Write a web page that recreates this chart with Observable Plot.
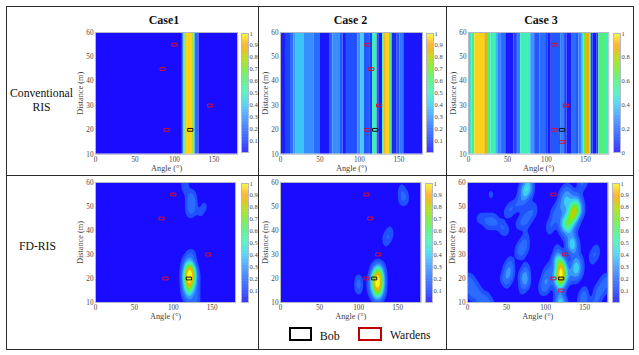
<!DOCTYPE html>
<html><head><meta charset="utf-8">
<script src="https://cdn.jsdelivr.net/npm/d3@7"></script>
<script src="https://cdn.jsdelivr.net/npm/@observablehq/plot@0.6"></script>
<style>
html,body{margin:0;background:#fff}
#page{position:relative;width:639px;height:355px;overflow:hidden;background:#fff;font-family:"Liberation Serif",serif;color:#111}
#page svg{position:absolute;overflow:visible}
.line{position:absolute;background:#2a2a2a}
.txt{position:absolute;white-space:nowrap;line-height:1;transform:translate(-50%,-50%)}
.box{position:absolute;box-sizing:border-box;border-style:solid;border-width:2px}
</style></head><body><div id="page"></div>
<script>
// colour ramp (value -> colour)
const rampStops  = [0, .1, .2, .3, .4, .5, .6, .7, .8, .85, .9, .95, 1];
const rampColors = ["#1a0cff","#1c44ff","#2a6cff","#3a98ff","#3ccff5","#3ef0b8","#4cf07a","#74e82a","#b8d400","#e4b400","#fba81a","#fdd21a","#eeff1e"];

// Conventional RIS: band edges (degrees) and band values
const case1Edges = [0,110,112,113.5,115,123,124.5,126,131,180];
const case1Vals  = [0,.25,.5,.75,.95,.75,.5,.2,0];
const case2Edges = [0,6.3,12.7,16.9,19.9,29.6,42.2,50.7,62.1,66.3,75.2,79.4,83.6,98,102.2,106.5,113.2,116.6,122.5,124.6,129.5,131,133,138,139.4,141.5,147.9,151.2,156.3,180];
const case2Vals  = [.03,.1,.2,.3,.38,.28,.2,.02,.18,.28,.15,.03,.13,.28,.4,.15,.08,.5,.15,.03,.6,.9,.95,.9,.6,.05,.15,.22,.02];
const case3Edges = [0,2.1,4.3,8.1,20.9,24.3,28.6,35,38.4,41.4,47.8,58.4,62.7,67,79.8,84.9,91.7,99,102.4,106.2,118.2,123.3,126.7,133.1,137.4,141.6,145.9,148,151.4,155.7,157.4,160,165.1,167.2,175.8,180];
const case3Vals  = [.25,.45,.6,.95,.85,.6,.5,.35,.25,.2,.02,.1,.25,.5,.3,.15,.2,.1,.03,.15,.25,.1,.03,.2,.15,.25,.4,.7,.85,.5,.1,.02,.1,.6,.5];

// FD-RIS: value in tenths on a 5 degree x 2.5 m grid. Rows run 60 m -> 10 m,
// groups start at 0,25,50,75,100,125,150,175 degrees.
const Z = "00000";
const fd1Rows = [
 [Z,Z,Z,Z,"00010",Z,Z,"00"],
 [Z,Z,Z,Z,"00010",Z,Z,"00"],
 [Z,Z,Z,Z,"00001","10000",Z,"00"],
 [Z,Z,Z,Z,"00001","20000",Z,"00"],
 [Z,Z,Z,Z,"00001","20010",Z,"00"],
 [Z,Z,Z,Z,"00001","10100",Z,"00"],
 [Z,Z,Z,Z,Z,Z,Z,"00"],
 [Z,Z,Z,Z,Z,Z,Z,"00"],
 [Z,Z,Z,Z,Z,Z,Z,"00"],
 [Z,Z,Z,Z,Z,Z,Z,"00"],
 [Z,Z,Z,Z,Z,Z,Z,"00"],
 [Z,Z,Z,Z,Z,Z,Z,"00"],
 [Z,Z,Z,Z,"00001","10000",Z,"00"],
 [Z,Z,Z,Z,"00012","10000",Z,"00"],
 [Z,Z,Z,Z,"00026","40000",Z,"00"],
 [Z,Z,Z,Z,"00049","71000",Z,"00"],
 [Z,Z,Z,Z,"00049","61000",Z,"00"],
 [Z,Z,Z,Z,"00038","41000",Z,"00"],
 [Z,Z,Z,Z,"00025","21000",Z,"00"],
 [Z,Z,Z,Z,"00012","11000",Z,"00"],
 [Z,Z,Z,Z,"00001","11000",Z,"00"]
];
const fd2Rows = [
 [Z,Z,Z,Z,Z,Z,Z,"00"],
 [Z,Z,Z,Z,Z,Z,"01000","00"],
 [Z,Z,Z,Z,Z,Z,"01100","00"],
 [Z,Z,Z,Z,Z,Z,"01100","00"],
 [Z,Z,Z,Z,Z,Z,Z,"00"],
 [Z,Z,Z,Z,Z,Z,Z,"00"],
 [Z,Z,Z,Z,Z,Z,Z,"00"],
 [Z,Z,Z,Z,Z,Z,Z,"00"],
 [Z,Z,Z,Z,Z,"00010",Z,"00"],
 [Z,Z,Z,Z,Z,"00110",Z,"00"],
 [Z,Z,Z,Z,Z,"00100",Z,"00"],
 [Z,Z,Z,Z,Z,Z,Z,"00"],
 [Z,Z,Z,Z,Z,Z,Z,"00"],
 [Z,Z,Z,Z,Z,Z,Z,"00"],
 [Z,Z,Z,Z,"00001","31000",Z,"00"],
 [Z,Z,Z,Z,"00004","73000",Z,"00"],
 [Z,Z,Z,Z,"10016","94000",Z,"00"],
 [Z,Z,Z,Z,"20016","94000",Z,"00"],
 [Z,Z,Z,Z,"10014","73000",Z,"00"],
 [Z,Z,Z,Z,"00002","41000",Z,"00"],
 [Z,Z,Z,Z,Z,Z,Z,"00"]
];
const fd3Rows = [
 [Z,Z,Z,"22000",Z,"00001","10000","00"],
 [Z,Z,"00002","43000",Z,"11001",Z,"00"],
 [Z,"01000","00002","31000","00001","22110",Z,"00"],
 [Z,Z,"00012","10000","00001","32231",Z,"00"],
 [Z,Z,"01110","00100","00012","22552",Z,"00"],
 [Z,Z,"11000","11100","00111","13762",Z,"00"],
 ["00011","11100","00001","11000","00111","35620",Z,"00"],
 [Z,"11111","00011","10000","01102","55210",Z,"00"],
 [Z,"00001","10000",Z,"01001","23100",Z,"00"],
 [Z,Z,Z,"10000",Z,"11200",Z,"00"],
 [Z,Z,"00001","10000",Z,"02410",Z,"00"],
 [Z,Z,"00012","10000","00010","02310","00010","00"],
 [Z,Z,"00011",Z,"00021","00110","00110","00"],
 [Z,Z,"01000",Z,"00154","10121","00100","00"],
 [Z,Z,"12000","10000","01048","30241",Z,"00"],
 [Z,Z,"22001","20000","11159","41231",Z,"00"],
 ["11000","00001","21002","30000","21159","31110",Z,"11"],
 ["11100",Z,"10001","20001","21035","10000","00001","11"],
 ["11110",Z,"00001","00001","10011",Z,"10011","10"],
 ["01111","10000",Z,Z,"00012","00001","20011","00"],
 ["00011","11000",Z,Z,"00024","10001","10110","00"]
];
// contour levels and the colour-bar value each one is painted with
const contourLevels = [-1,.035,.1,.2,.3,.4,.5,.6,.7,.8,.85,.9,.96];
const contourRamp   = [ 0,.13,.2,.3,.4,.5,.6,.7,.8,.85,.9,.95,1];
const contourGain = 1.5, contourCell = 4, contourBlur = 2;

// users: [angle, distance]
const bob = [[120,20]];
const wardens1 = [[100,55],[85,45],[145,30],[90,20]];
const wardens2 = [[110,55],[115,45],[125,30],[110,20]];
const wardens3 = [[110,55],[125,30],[110,20],[120,15]];

const xTicks = [0,50,100,150];
const yTicks = [10,20,30,40,50,60];
const barTicks = [.1,.2,.3,.4,.5,.6,.7,.8,.9,1];
const barTicks3 = [0,.2,.4,.6,.8,1];
const rampLevels = d3.range(0,1,.005);

// layout of the six panels (frame in page pixels)
const panels = [
 {edges:case1Edges,vals:case1Vals,war:wardens1,l:94.5,r:236.7,t:32,b:153.7,bl:240.7,bt:33,bb:152,ticks:barTicks},
 {edges:case2Edges,vals:case2Vals,war:wardens2,l:280,r:422,t:32,b:153.7,bl:426.3,bt:33,bb:152,ticks:barTicks},
 {edges:case3Edges,vals:case3Vals,war:wardens3,l:467.7,r:608,t:32,b:153.7,bl:613.3,bt:33,bb:152,ticks:barTicks3},
 {rows:fd1Rows,war:wardens1,l:95.3,r:235.3,t:182,b:302,bl:240.7,bt:183,bb:302,ticks:barTicks},
 {rows:fd2Rows,war:wardens2,l:279.7,r:420.3,t:182,b:302,bl:424.7,bt:183,bb:302,ticks:barTicks},
 {rows:fd3Rows,war:wardens3,l:466.7,r:607.3,t:182,b:302,bl:611.7,bt:183,bb:302,ticks:barTicks}
];
const page = document.getElementById("page");
const M = {left:24,right:3,top:3,bottom:22};
const font = {fontFamily:"Liberation Serif",fontSize:"7.2px",background:"transparent"};
const rectSymbol = {draw(c){ c.moveTo(-2.6,-1.4); c.lineTo(2.6,-1.4); c.lineTo(2.6,1.4); c.lineTo(-2.6,1.4); c.closePath(); }};
const rampColor = d3.scaleLinear(rampStops,rampColors);

function heatMarks(p){
  if (p.rows){
    // each reading fills a block of sub-cells; Plot's blur then rounds the contours
    const rows = p.rows.slice().reverse().map(r => r.join(""));
    const n = contourCell, w = 37, h = 21, grid = [];
    for (let j=0;j<h*n;j++) for (let i=0;i<w*n;i++)
      grid.push(+rows[Math.floor(j/n)][Math.floor(i/n)]/10*contourGain);
    return {marks:[Plot.contour(grid,{width:w*n,height:h*n,x1:-2.5,x2:182.5,y1:8.75,y2:61.25,fill:Plot.identity,thresholds:contourLevels,blur:contourBlur,clip:true})],
            domain:contourLevels,range:contourRamp.map(v=>rampColor(v))};
  }
  const bands = p.vals.map((v,i)=>({a:p.edges[i],b:p.edges[i+1],v}));
  return {marks:[Plot.rect(bands,{x1:"a",x2:"b",y1:10,y2:60,fill:"v"})],domain:rampStops,range:rampColors};
}
for (const p of panels){
  const h = heatMarks(p);
  const svg = Plot.plot({
    width:p.r-p.l+M.left+M.right,height:p.b-p.t+M.top+M.bottom,
    marginLeft:M.left,marginRight:M.right,marginTop:M.top,marginBottom:M.bottom,style:font,
    x:{domain:[0,180]},y:{domain:[10,60]},
    color:{type:"linear",domain:h.domain,range:h.range,clamp:true},
    marks:[
      ...h.marks,
      Plot.frame({stroke:"#b4b8c4",strokeWidth:1}),
      Plot.axisX({ticks:xTicks,tickSize:0,tickPadding:2.5,color:"#444",label:"Angle (°)",labelAnchor:"center",labelArrow:"none",labelOffset:16.5}),
      Plot.axisY({ticks:yTicks,tickSize:0,tickPadding:2,color:"#444",label:"Distance (m)",labelAnchor:"center",labelArrow:"none",labelOffset:18}),
      Plot.dot(p.war,{x:d=>d[0],y:d=>d[1],symbol:rectSymbol,r:3,stroke:"#d81030",strokeWidth:1,fill:"none"}),
      Plot.dot(bob,{x:d=>d[0],y:d=>d[1],symbol:rectSymbol,r:3,stroke:"#111",strokeWidth:1,fill:"none"})
    ]
  });
  svg.style.left = (p.l-M.left)+"px"; svg.style.top = (p.t-M.top)+"px";
  svg.querySelectorAll('g[aria-label="x-axis label"],g[aria-label="y-axis label"]').forEach(g=>{g.style.fontSize="8.3px";});
  page.appendChild(svg);

  const bar = Plot.plot({
    width:7+1+16,height:p.bb-p.bt+2,
    marginLeft:1,marginRight:16,marginTop:1,marginBottom:1,
    style:{...font,fontSize:"6.5px"},
    x:{domain:[0,1],axis:null},y:{domain:[0,1]},
    color:{type:"linear",domain:rampStops,range:rampColors},
    marks:[
      Plot.rect(rampLevels,{x1:0,x2:1,y1:d=>d,y2:d=>d+.006,fill:d=>d}),
      Plot.frame({stroke:"#b4b8c4",strokeWidth:1}),
      Plot.axisY({anchor:"right",ticks:p.ticks,tickFormat:d=>String(d),tickSize:0,tickPadding:1,color:"#444",label:null})
    ]
  });
  bar.style.left = (p.bl-1)+"px"; bar.style.top = (p.bt-1)+"px";
  page.appendChild(bar);
}

// table rules
const rules = [[6,6,627.5,1.4],[6,175,627.5,1.4],[6,349,627.5,1.4],[6,6,1.4,344.4],[258,6,1.4,344.4],[445.5,6,1.4,344.4],[633,6,1.4,344.4]];
for (const [x,y,w,h] of rules){
  const d = document.createElement("div"); d.className="line";
  d.style.cssText = `left:${x}px;top:${y}px;width:${w}px;height:${h}px`; page.appendChild(d);
}
// headings, row labels, legend
const texts = [["Case1",164,20,12,700],["Case 2",350.5,20,12,700],["Case 3",541,20,12,700],
 ["Conventional",41.5,94,11.7,400],["RIS",41.5,108,11.7,400],["FD-RIS",37.5,246.5,11.7,400],
 ["Bob",329.7,335.7,12,400],["Wardens",410.3,335.7,11.7,400]];
for (const [s,x,y,size,w] of texts){
  const d = document.createElement("div"); d.className="txt"; d.textContent=s;
  d.style.cssText = `left:${x}px;top:${y}px;font-size:${size}px;font-weight:${w}`; page.appendChild(d);
}
for (const [x,c] of [[288.7,"#000"],[358.3,"#c00000"]]){
  const d = document.createElement("div"); d.className="box";
  d.style.cssText = `left:${x}px;top:326.7px;width:23.6px;height:14px;border-color:${c}`; page.appendChild(d);
}
</script></body></html>
